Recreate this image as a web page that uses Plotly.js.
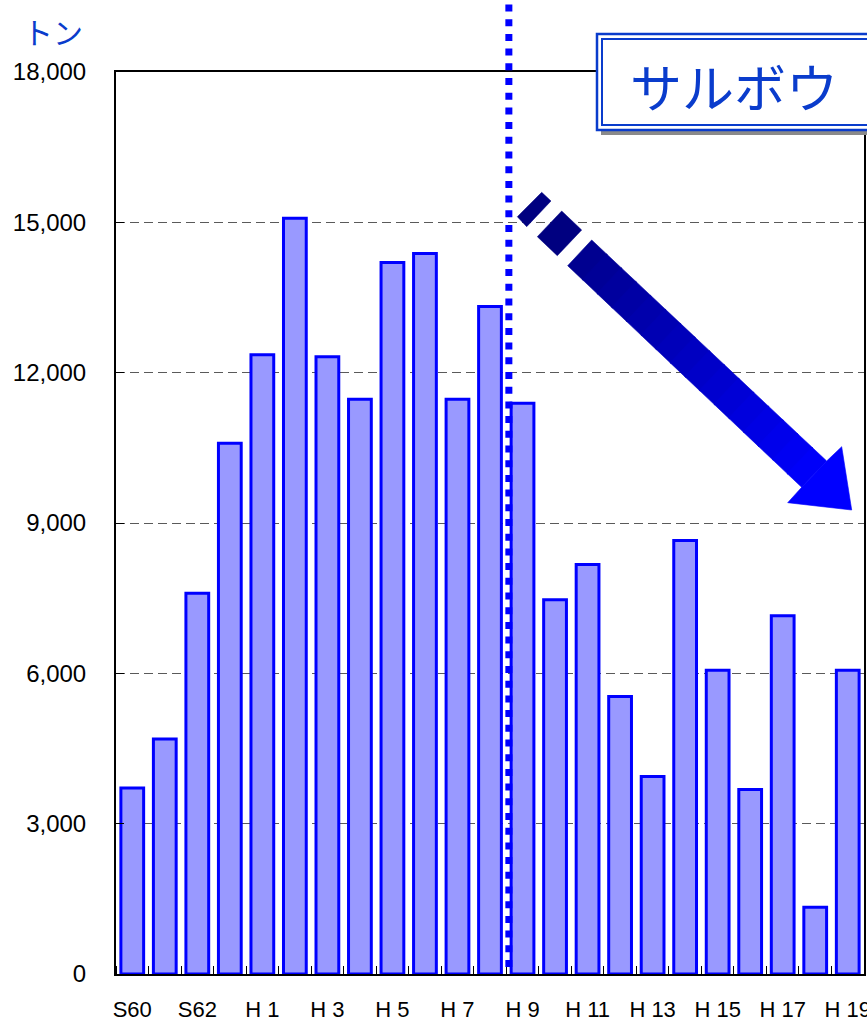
<!DOCTYPE html>
<html>
<head>
<meta charset="utf-8">
<script src="https://cdn.plot.ly/plotly-3.0.1.min.js"></script>
<style>
  html, body { margin: 0; padding: 0; background: #ffffff; }
  #chart { width: 867px; height: 1022px; }
</style>
</head>
<body>
<div id="chart"></div>
<script>
// ---- data ----
const years = ["S60","S61","S62","S63","H1","H2","H3","H4","H5","H6","H7","H8",
               "H9","H10","H11","H12","H13","H14","H15","H16","H17","H18","H19"];
const catch_t = [3710, 4690, 7600, 10590, 12360, 15080, 12320, 11470, 14200, 14380, 11470, 13320,
                 11390, 7470, 8170, 5540, 3940, 8650, 6060, 3680, 7150, 1330, 6060];
const tickIdx = [0, 2, 4, 6, 8, 10, 12, 14, 16, 18, 20, 22];
const tickText = ["S60", "S62", "H 1", "H 3", "H 5", "H 7", "H 9", "H 11", "H 13", "H 15", "H 17", "H 19"];
const yTicks = [0, 3000, 6000, 9000, 12000, 15000, 18000];
const unitLabel = "トン";
const speciesLabel = "サルボウ";
const boundaryIndex = 11.58; // dotted divider between H8 and H9

// ---- geometry helpers (decorations only) ----
const W = 867, H = 1022;
const L = 116, R = 864, T = 72, B = 974;
const px = x => (x - L) / (R - L);
const py = y => (B - y) / (B - T);
const pt = (x, y) => px(x).toFixed(5) + ',' + py(y).toFixed(5);
const poly = pts => 'M' + pts.map(p => pt(p[0], p[1])).join(' L') + ' Z';

const shapes = [];
// title box shadow
shapes.push({type: 'rect', xref: 'paper', yref: 'paper', layer: 'above',
  x0: px(601), x1: px(905), y0: py(135), y1: py(38),
  fillcolor: '#8a8a8a', line: {width: 0}});
// outer box
shapes.push({type: 'rect', xref: 'paper', yref: 'paper', layer: 'above',
  x0: px(597), x1: px(905), y0: py(130), y1: py(34),
  fillcolor: '#ffffff', line: {color: '#0a3ccc', width: 2.5}});
// inner box
shapes.push({type: 'rect', xref: 'paper', yref: 'paper', layer: 'above',
  x0: px(602), x1: px(905), y0: py(125), y1: py(39),
  fillcolor: 'rgba(0,0,0,0)', line: {color: '#0a3ccc', width: 2}});

// dotted divider
shapes.push({type: 'line', xref: 'x', yref: 'paper', layer: 'above',
  x0: boundaryIndex, x1: boundaryIndex, y0: py(967), y1: py(0),
  line: {color: '#0000ff', width: 7, dash: '7px,7.7px'}});

// arrow dashes
const navy = 'rgb(0,0,128)';
shapes.push({type: 'path', xref: 'paper', yref: 'paper', layer: 'above',
  path: poly([[517.3,216.7],[541.7,192.3],[551,201],[526.7,226.7]]),
  fillcolor: navy, line: {color: navy, width: 0.5}});
shapes.push({type: 'path', xref: 'paper', yref: 'paper', layer: 'above',
  path: poly([[537.3,236.7],[561.7,211],[581.7,230],[557.3,255.7]]),
  fillcolor: navy, line: {color: navy, width: 0.5}});
// arrow shaft with gradient
const A = [591.7,240], Bp = [567.7,265.7], C = [826.7,461], D = [801.7,487.3];
const N = 16;
const lerp = (p, q, t) => [p[0] + (q[0]-p[0])*t, p[1] + (q[1]-p[1])*t];
for (let i = 0; i < N; i++) {
  const t0 = i / N, t1 = (i + 1) / N + (i < N - 1 ? 0.004 : 0);
  const tm = (i + 0.5) / N;
  const b = Math.round(140 + (252 - 140) * tm);
  const col = 'rgb(0,0,' + b + ')';
  shapes.push({type: 'path', xref: 'paper', yref: 'paper', layer: 'above',
    path: poly([lerp(A, C, t0), lerp(A, C, t1), lerp(Bp, D, t1), lerp(Bp, D, t0)]),
    fillcolor: col, line: {color: col, width: 0.6}});
}
// arrow head
shapes.push({type: 'path', xref: 'paper', yref: 'paper', layer: 'above',
  path: poly([[826.7,461],[841.7,446.7],[851.7,510],[787.7,502.7],[801.7,487.3]]),
  fillcolor: 'rgb(0,0,255)', line: {color: 'rgb(0,0,255)', width: 0.6}});

const annotations = [
  {xref: 'paper', yref: 'paper', x: px(53), y: py(31), xanchor: 'center', yanchor: 'middle',
   text: unitLabel, showarrow: false,
   font: {family: '"Noto Sans CJK JP", "Noto Sans", sans-serif', size: 30, color: '#0a3ccc'}},
  {xref: 'paper', yref: 'paper', x: px(734), y: py(86), xanchor: 'center', yanchor: 'middle',
   text: speciesLabel, showarrow: false,
   font: {family: '"Noto Sans CJK JP", "Noto Sans", sans-serif', size: 52, color: '#0a3ccc'}}
];

const trace = {
  type: 'bar',
  x: years.map((_, i) => i),
  y: catch_t,
  marker: {color: '#9999ff', line: {color: '#0000ff', width: 3}},
  hoverinfo: 'skip'
};

const layout = {
  width: W, height: H,
  margin: {l: L, r: W - R, t: T, b: H - B, pad: 0},
  paper_bgcolor: '#ffffff', plot_bgcolor: '#ffffff',
  showlegend: false,
  bargap: 0.3,
  font: {family: '"Liberation Sans", Arial, sans-serif', color: '#000000'},
  xaxis: {
    type: 'linear', range: [-0.5, 22.5], fixedrange: true,
    tickmode: 'array', tickvals: tickIdx, ticktext: tickText,
    ticks: '', showgrid: false, zeroline: false,
    showline: true, linecolor: '#000000', linewidth: 2, mirror: true,
    ticklabelstandoff: 15,
    ticklabeloverflow: 'allow',
    tickfont: {family: '"Liberation Sans", Arial, sans-serif', size: 22, color: '#000'},
    minor: {tickmode: 'linear', tick0: 0.5, dtick: 1, ticks: 'inside', ticklen: 8, tickwidth: 1, tickcolor: '#000000', showgrid: false}
  },
  yaxis: {
    range: [0, 18000], fixedrange: true,
    tickmode: 'array', tickvals: yTicks, ticktext: yTicks.map(v => v.toLocaleString('en-US')),
    ticks: 'inside', ticklen: 8, tickwidth: 1, tickcolor: '#000000',
    showgrid: true, gridcolor: '#5a5a5a', gridwidth: 1, griddash: '9px,5px',
    zeroline: false,
    showline: true, linecolor: '#000000', linewidth: 2, mirror: true,
    ticklabelstandoff: 23,
    tickfont: {family: '"Liberation Sans", Arial, sans-serif', size: 24, color: '#000'}
  },
  shapes: shapes,
  annotations: annotations
};

Plotly.newPlot('chart', [trace], layout, {displayModeBar: false, staticPlot: true});
</script>
</body>
</html>
